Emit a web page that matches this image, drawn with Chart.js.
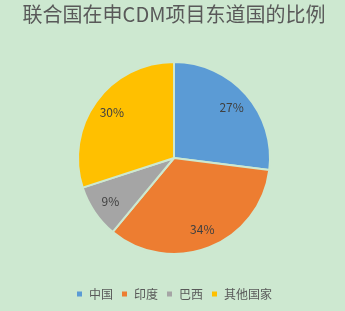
<!DOCTYPE html>
<html>
<head>
<meta charset="utf-8">
<script src="https://cdn.jsdelivr.net/npm/chart.js@4/dist/chart.umd.min.js"></script>
<style>
  html, body { margin: 0; padding: 0; background: #cde8d0; }
  #wrap { width: 345px; height: 311px; position: relative; }
</style>
</head>
<body>
<div id="wrap"><canvas id="c" width="345" height="311"></canvas></div>
<script>
// 联合国在申CDM项目东道国的比例
const categories = ['中国', '印度', '巴西', '其他国家'];
const shares = [27, 34, 9, 30];
const sliceColors = ['#5b9bd5', '#ed7d31', '#a5a5a5', '#ffc000'];
const bg = '#cde8d0';
const textColor = '#595959';
const cjkFont = '"Microsoft YaHei", "Noto Sans CJK SC", sans-serif';

// Percentage labels placed inside each slice
const sliceLabels = {
  id: 'sliceLabels',
  afterDatasetsDraw(chart) {
    const ctx = chart.ctx;
    const meta = chart.getDatasetMeta(0);
    const total = shares.reduce((a, b) => a + b, 0);
    ctx.save();
    ctx.font = '12px ' + cjkFont;
    ctx.fillStyle = '#404040';
    ctx.textAlign = 'center';
    ctx.textBaseline = 'middle';
    meta.data.forEach((arc, i) => {
      const p = arc.getProps(['x', 'y', 'startAngle', 'endAngle', 'outerRadius'], true);
      const mid = (p.startAngle + p.endAngle) / 2;
      const r = p.outerRadius * 0.8;
      const pct = Math.round(shares[i] / total * 100) + '%';
      ctx.fillText(pct, p.x + Math.cos(mid) * r, p.y + Math.sin(mid) * r);
    });
    ctx.restore();
  }
};

const bgPlugin = {
  id: 'bgFill',
  beforeDraw(chart) {
    const ctx = chart.ctx;
    ctx.save();
    ctx.fillStyle = bg;
    ctx.fillRect(0, 0, chart.width, chart.height);
    ctx.restore();
  }
};

new Chart(document.getElementById('c'), {
  type: 'pie',
  data: {
    labels: categories,
    datasets: [{
      data: shares,
      backgroundColor: sliceColors,
      borderColor: bg,
      borderWidth: 2
    }]
  },
  options: {
    responsive: false,
    animation: false,
    radius: 96,
    layout: { padding: { top: 0, bottom: 1, left: 3, right: 0 } },
    plugins: {
      title: {
        display: true,
        text: '联合国在申CDM项目东道国的比例',
        color: textColor,
        font: { family: cjkFont, size: 20, weight: 'normal' },
        padding: { top: 2, bottom: 10 }
      },
      legend: {
        position: 'bottom',
        labels: {
          color: textColor,
          font: { family: cjkFont, size: 12 },
          usePointStyle: true,
          pointStyle: 'rect',
          boxWidth: 7,
          boxHeight: 7,
          padding: 8
        }
      },
      tooltip: { enabled: false }
    }
  },
  plugins: [bgPlugin, sliceLabels]
});
</script>
</body>
</html>
